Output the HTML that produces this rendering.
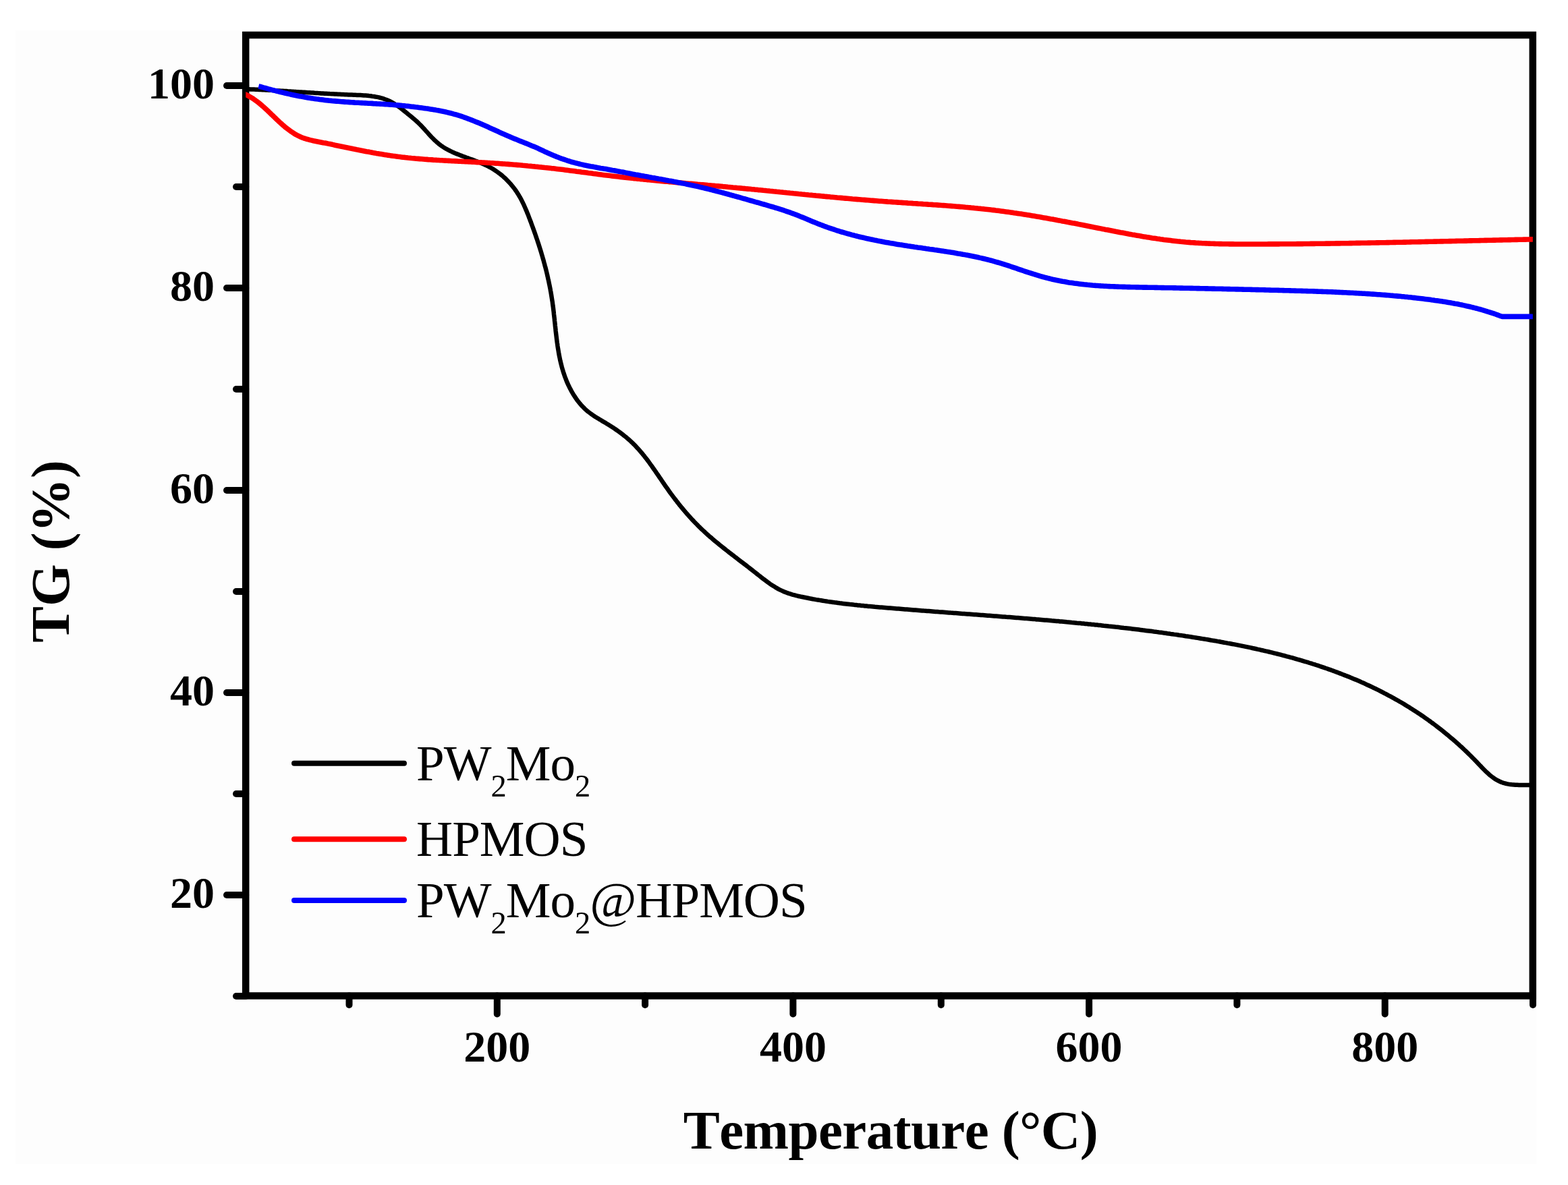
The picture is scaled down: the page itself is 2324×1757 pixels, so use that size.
<!DOCTYPE html>
<html><head><meta charset="utf-8"><title>TG curves</title>
<style>
html,body{margin:0;padding:0;background:#ffffff;}
body{width:2324px;height:1757px;overflow:hidden;}
svg{display:block;}
text{font-kerning:none;}
.tk{stroke:#000;stroke-width:10;stroke-linecap:round;}
.yl{font-family:"Liberation Serif","Times New Roman",serif;font-weight:bold;font-size:66px;text-anchor:end;fill:#000;}
.xl{font-family:"Liberation Serif","Times New Roman",serif;font-weight:bold;font-size:66px;text-anchor:middle;fill:#000;}
.tt{font-family:"Liberation Serif","Times New Roman",serif;font-weight:bold;font-size:81px;fill:#000;}
.lg{font-family:"Liberation Serif","Times New Roman",serif;font-size:75px;letter-spacing:-1px;fill:#000;}
.cv{fill:none;stroke-linejoin:round;stroke-linecap:butt;}
</style></head><body>
<svg width="2324" height="1757" viewBox="0 0 2324 1757">
<rect x="0" y="0" width="2324" height="1757" fill="#fff"/>
<rect x="23" y="45" width="2254" height="1681" fill="#fdfdfd"/>
<line x1="336.0" y1="127.0" x2="364.2" y2="127.0" class="tk"/>
<line x1="336.0" y1="427.0" x2="364.2" y2="427.0" class="tk"/>
<line x1="336.0" y1="727.0" x2="364.2" y2="727.0" class="tk"/>
<line x1="336.0" y1="1027.0" x2="364.2" y2="1027.0" class="tk"/>
<line x1="336.0" y1="1327.0" x2="364.2" y2="1327.0" class="tk"/>
<line x1="350.0" y1="277.0" x2="364.2" y2="277.0" class="tk"/>
<line x1="350.0" y1="577.0" x2="364.2" y2="577.0" class="tk"/>
<line x1="350.0" y1="877.0" x2="364.2" y2="877.0" class="tk"/>
<line x1="350.0" y1="1177.0" x2="364.2" y2="1177.0" class="tk"/>
<line x1="350.0" y1="1477.0" x2="364.2" y2="1477.0" class="tk"/>
<line x1="736.8" y1="1476.5" x2="736.8" y2="1503.5" class="tk"/>
<line x1="1175.4" y1="1476.5" x2="1175.4" y2="1503.5" class="tk"/>
<line x1="1614.1" y1="1476.5" x2="1614.1" y2="1503.5" class="tk"/>
<line x1="2052.7" y1="1476.5" x2="2052.7" y2="1503.5" class="tk"/>
<line x1="517.5" y1="1476.5" x2="517.5" y2="1490.0" class="tk"/>
<line x1="956.1" y1="1476.5" x2="956.1" y2="1490.0" class="tk"/>
<line x1="1394.8" y1="1476.5" x2="1394.8" y2="1490.0" class="tk"/>
<line x1="1833.4" y1="1476.5" x2="1833.4" y2="1490.0" class="tk"/>
<line x1="2272.0" y1="1476.5" x2="2272.0" y2="1490.0" class="tk"/>
<rect x="364.2" y="52.0" width="1907.6" height="1424.5" fill="none" stroke="#000" stroke-width="10.5" stroke-linejoin="miter"/>
<defs><clipPath id="pa"><rect x="364.2" y="52.0" width="1907.6" height="1424.5"/></clipPath></defs>
<g clip-path="url(#pa)">
<path class="cv" d="M364.0,132.0L366.5,132.2 369.0,132.3 371.5,132.4 374.1,132.5 376.6,132.6 379.1,132.7 381.6,132.8 384.1,132.9 386.6,133.0 389.2,133.2 391.7,133.3 394.2,133.4 396.7,133.5 399.2,133.7 401.7,133.8 404.2,133.9 406.6,134.1 409.1,134.2 411.6,134.4 414.1,134.5 416.6,134.7 419.1,134.8 421.6,135.0 424.1,135.1 426.5,135.3 429.0,135.4 431.5,135.6 434.0,135.7 436.5,135.9 438.9,136.1 441.4,136.2 443.9,136.4 446.4,136.5 448.9,136.7 451.3,136.8 453.8,137.0 456.3,137.2 458.8,137.3 461.3,137.5 463.8,137.6 466.2,137.8 468.7,137.9 471.2,138.1 473.7,138.2 476.2,138.4 478.7,138.5 481.2,138.7 483.7,138.8 486.2,138.9 488.7,139.1 491.2,139.2 493.7,139.3 496.2,139.5 498.7,139.6 501.2,139.7 503.7,139.8 506.3,140.0 508.8,140.1 511.3,140.2 513.8,140.3 516.4,140.4 518.9,140.5 521.4,140.6 524.0,140.7 526.5,140.8 529.1,140.9 531.6,141.0 534.2,141.1 536.7,141.2 539.2,141.4 541.8,141.6 544.3,141.8 546.8,142.1 549.3,142.3 551.7,142.7 554.2,143.0 556.6,143.5 559.1,143.9 561.5,144.4 563.8,145.0 566.2,145.7 568.5,146.4 570.8,147.2 573.1,148.0 575.4,149.0 577.6,150.0 579.8,151.1 581.9,152.3 584.0,153.5 586.1,154.9 588.2,156.3 590.3,157.7 592.3,159.2 594.3,160.7 596.3,162.3 598.3,163.9 600.2,165.4 602.2,167.0 604.1,168.6 606.1,170.2 608.0,171.7 609.9,173.3 611.8,174.9 613.7,176.5 615.6,178.2 617.4,179.8 619.3,181.5 621.1,183.3 622.9,185.0 624.6,186.8 626.4,188.7 628.1,190.5 629.8,192.4 631.5,194.3 633.2,196.2 634.9,198.1 636.6,200.0 638.4,201.9 640.1,203.7 641.9,205.5 643.6,207.3 645.5,209.0 647.3,210.7 649.2,212.3 651.1,213.9 653.1,215.4 655.1,216.8 657.1,218.1 659.2,219.4 661.3,220.7 663.5,221.9 665.7,223.0 667.9,224.1 670.1,225.2 672.4,226.2 674.6,227.2 676.9,228.1 679.3,229.1 681.6,230.0 683.9,230.9 686.3,231.8 688.6,232.6 691.0,233.5 693.4,234.3 695.8,235.2 698.1,236.0 700.5,236.9 702.9,237.8 705.2,238.7 707.6,239.6 709.9,240.5 712.3,241.4 714.6,242.4 716.9,243.4 719.1,244.5 721.4,245.5 723.6,246.6 725.8,247.8 728.0,249.0 730.1,250.3 732.3,251.6 734.3,253.0 736.4,254.4 738.4,255.8 740.4,257.3 742.4,258.9 744.3,260.4 746.2,262.1 748.0,263.7 749.8,265.4 751.6,267.2 753.3,269.0 755.0,270.8 756.7,272.7 758.3,274.6 759.9,276.5 761.4,278.4 762.9,280.4 764.4,282.5 765.8,284.5 767.1,286.6 768.5,288.7 769.7,290.9 771.0,293.0 772.2,295.2 773.3,297.4 774.4,299.7 775.5,301.9 776.6,304.2 777.6,306.5 778.6,308.8 779.6,311.1 780.6,313.4 781.5,315.7 782.5,318.1 783.4,320.4 784.3,322.8 785.2,325.1 786.1,327.5 787.0,329.8 787.8,332.2 788.7,334.6 789.6,336.9 790.4,339.3 791.3,341.6 792.1,344.0 793.0,346.4 793.8,348.7 794.6,351.1 795.4,353.5 796.2,355.8 797.0,358.2 797.8,360.6 798.6,363.0 799.3,365.4 800.1,367.7 800.8,370.1 801.6,372.5 802.3,374.9 803.0,377.3 803.7,379.7 804.4,382.1 805.1,384.5 805.8,386.9 806.4,389.3 807.1,391.7 807.7,394.1 808.4,396.5 809.0,398.9 809.6,401.3 810.2,403.7 810.8,406.2 811.3,408.6 811.9,411.0 812.4,413.5 813.0,415.9 813.5,418.3 814.0,420.8 814.5,423.2 815.0,425.7 815.5,428.1 815.9,430.6 816.4,433.0 816.8,435.5 817.2,437.9 817.6,440.4 818.0,442.9 818.4,445.4 818.8,447.8 819.1,450.3 819.4,452.8 819.8,455.3 820.1,457.8 820.4,460.3 820.7,462.8 820.9,465.3 821.2,467.8 821.5,470.3 821.8,472.8 822.0,475.3 822.3,477.8 822.6,480.3 822.8,482.8 823.1,485.3 823.4,487.8 823.6,490.3 823.9,492.8 824.2,495.3 824.5,497.8 824.8,500.3 825.1,502.8 825.4,505.3 825.7,507.7 826.1,510.2 826.4,512.7 826.8,515.2 827.2,517.6 827.6,520.1 828.0,522.6 828.4,525.0 828.9,527.5 829.4,529.9 829.9,532.3 830.4,534.8 831.0,537.2 831.6,539.6 832.2,542.0 832.8,544.4 833.5,546.8 834.2,549.2 834.9,551.5 835.7,553.9 836.5,556.2 837.3,558.6 838.2,560.9 839.1,563.2 840.0,565.6 841.0,567.9 842.0,570.1 843.1,572.4 844.2,574.7 845.4,576.9 846.6,579.2 847.8,581.4 849.1,583.6 850.4,585.8 851.8,587.9 853.3,590.1 854.7,592.2 856.2,594.2 857.8,596.2 859.4,598.2 861.0,600.1 862.7,602.0 864.5,603.8 866.2,605.6 868.1,607.3 869.9,608.9 871.8,610.5 873.8,612.0 875.8,613.5 877.8,614.9 879.8,616.3 881.9,617.7 884.0,619.0 886.1,620.3 888.2,621.6 890.3,622.8 892.5,624.1 894.6,625.4 896.8,626.6 898.9,627.9 901.1,629.2 903.2,630.6 905.3,631.9 907.4,633.3 909.5,634.6 911.6,636.0 913.7,637.5 915.7,638.9 917.8,640.4 919.8,641.9 921.8,643.4 923.8,644.9 925.7,646.5 927.7,648.0 929.6,649.7 931.5,651.3 933.3,652.9 935.2,654.6 937.0,656.3 938.8,658.1 940.5,659.8 942.2,661.6 943.9,663.4 945.6,665.2 947.3,667.1 948.9,669.0 950.5,670.8 952.1,672.7 953.7,674.7 955.2,676.6 956.7,678.6 958.3,680.5 959.8,682.5 961.3,684.5 962.7,686.5 964.2,688.6 965.7,690.6 967.1,692.6 968.5,694.7 970.0,696.7 971.4,698.8 972.8,700.9 974.2,702.9 975.7,705.0 977.1,707.1 978.5,709.2 979.9,711.2 981.3,713.3 982.7,715.4 984.2,717.5 985.6,719.6 987.0,721.6 988.5,723.7 989.9,725.7 991.4,727.8 992.8,729.8 994.3,731.9 995.8,733.9 997.3,735.9 998.8,737.9 1000.3,739.9 1001.9,741.9 1003.4,743.9 1005.0,745.9 1006.5,747.9 1008.1,749.8 1009.7,751.8 1011.3,753.7 1012.9,755.6 1014.5,757.5 1016.1,759.4 1017.8,761.3 1019.4,763.2 1021.1,765.1 1022.8,766.9 1024.5,768.8 1026.1,770.6 1027.9,772.4 1029.6,774.3 1031.3,776.0 1033.1,777.8 1034.8,779.6 1036.6,781.3 1038.4,783.1 1040.2,784.8 1042.0,786.5 1043.8,788.2 1045.6,789.9 1047.5,791.6 1049.3,793.2 1051.2,794.9 1053.1,796.5 1055.0,798.1 1056.9,799.8 1058.8,801.4 1060.7,803.0 1062.6,804.5 1064.5,806.1 1066.4,807.7 1068.4,809.3 1070.3,810.8 1072.3,812.4 1074.2,813.9 1076.2,815.5 1078.2,817.0 1080.1,818.6 1082.1,820.1 1084.1,821.6 1086.1,823.2 1088.1,824.7 1090.0,826.2 1092.0,827.7 1094.0,829.3 1096.0,830.8 1098.0,832.3 1100.0,833.8 1102.0,835.4 1104.0,836.9 1106.0,838.4 1108.0,840.0 1110.0,841.5 1112.0,843.1 1114.0,844.6 1116.0,846.2 1117.9,847.7 1119.9,849.3 1121.9,850.9 1123.9,852.5 1125.9,854.0 1127.8,855.6 1129.8,857.1 1131.8,858.7 1133.8,860.2 1135.8,861.7 1137.8,863.2 1139.9,864.7 1141.9,866.1 1144.0,867.5 1146.1,868.8 1148.2,870.1 1150.3,871.4 1152.4,872.6 1154.6,873.8 1156.8,874.9 1159.0,875.9 1161.3,876.9 1163.6,877.9 1165.9,878.7 1168.2,879.6 1170.6,880.3 1172.9,881.1 1175.3,881.8 1177.7,882.4 1180.2,883.1 1182.6,883.7 1185.0,884.2 1187.5,884.8 1190.0,885.3 1192.4,885.8 1194.9,886.3 1197.4,886.8 1199.8,887.3 1202.3,887.7 1204.8,888.2 1207.2,888.6 1209.7,889.1 1212.2,889.5 1214.7,889.9 1217.1,890.3 1219.6,890.7 1222.1,891.1 1224.6,891.5 1227.1,891.9 1229.5,892.2 1232.0,892.6 1234.5,892.9 1237.0,893.3 1239.5,893.6 1242.0,893.9 1244.4,894.3 1246.9,894.6 1249.4,894.9 1251.9,895.2 1254.4,895.5 1256.9,895.8 1259.4,896.1 1261.9,896.3 1264.4,896.6 1266.8,896.9 1269.3,897.1 1271.8,897.4 1274.3,897.6 1276.8,897.9 1279.3,898.1 1281.8,898.4 1284.3,898.6 1286.8,898.9 1289.3,899.1 1291.8,899.3 1294.3,899.5 1296.8,899.8 1299.3,900.0 1301.8,900.2 1304.3,900.4 1306.8,900.6 1309.2,900.8 1311.7,901.0 1314.2,901.2 1316.7,901.4 1319.2,901.6 1321.7,901.8 1324.2,902.0 1326.7,902.2 1329.2,902.4 1331.7,902.6 1334.2,902.8 1336.7,903.0 1339.2,903.2 1341.7,903.4 1344.2,903.6 1346.7,903.8 1349.2,904.0 1351.7,904.2 1354.2,904.4 1356.7,904.6 1359.2,904.8 1361.7,905.0 1364.2,905.2 1366.7,905.4 1369.2,905.6 1371.7,905.7 1374.2,905.9 1376.6,906.1 1379.1,906.3 1381.6,906.5 1384.1,906.7 1386.6,906.9 1389.1,907.1 1391.6,907.3 1394.1,907.4 1396.6,907.6 1399.1,907.8 1401.6,908.0 1404.1,908.2 1406.6,908.4 1409.1,908.6 1411.6,908.7 1414.1,908.9 1416.6,909.1 1419.1,909.3 1421.6,909.5 1424.1,909.7 1426.6,909.9 1429.0,910.0 1431.5,910.2 1434.0,910.4 1436.5,910.6 1439.0,910.8 1441.5,911.0 1444.0,911.2 1446.5,911.3 1449.0,911.5 1451.5,911.7 1454.0,911.9 1456.5,912.1 1459.0,912.3 1461.5,912.5 1464.0,912.7 1466.5,912.8 1469.0,913.0 1471.4,913.2 1473.9,913.4 1476.4,913.6 1478.9,913.8 1481.4,914.0 1483.9,914.2 1486.4,914.4 1488.9,914.6 1491.4,914.8 1493.9,914.9 1496.4,915.1 1498.9,915.3 1501.4,915.5 1503.9,915.7 1506.4,915.9 1508.8,916.1 1511.3,916.3 1513.8,916.5 1516.3,916.7 1518.8,916.9 1521.3,917.1 1523.8,917.3 1526.3,917.5 1528.8,917.7 1531.3,917.9 1533.8,918.1 1536.3,918.4 1538.7,918.6 1541.2,918.8 1543.7,919.0 1546.2,919.2 1548.7,919.4 1551.2,919.6 1553.7,919.8 1556.2,920.0 1558.7,920.3 1561.2,920.5 1563.7,920.7 1566.1,920.9 1568.6,921.1 1571.1,921.4 1573.6,921.6 1576.1,921.8 1578.6,922.0 1581.1,922.3 1583.6,922.5 1586.1,922.7 1588.5,923.0 1591.0,923.2 1593.5,923.4 1596.0,923.7 1598.5,923.9 1601.0,924.1 1603.5,924.4 1606.0,924.6 1608.5,924.9 1610.9,925.1 1613.4,925.4 1615.9,925.6 1618.4,925.9 1620.9,926.1 1623.4,926.4 1625.9,926.6 1628.4,926.9 1630.8,927.1 1633.3,927.4 1635.8,927.7 1638.3,927.9 1640.8,928.2 1643.3,928.5 1645.8,928.7 1648.3,929.0 1650.7,929.3 1653.2,929.6 1655.7,929.8 1658.2,930.1 1660.7,930.4 1663.2,930.7 1665.7,931.0 1668.1,931.2 1670.6,931.5 1673.1,931.8 1675.6,932.1 1678.1,932.4 1680.6,932.7 1683.1,933.0 1685.5,933.3 1688.0,933.6 1690.5,933.9 1693.0,934.2 1695.5,934.6 1698.0,934.9 1700.4,935.2 1702.9,935.5 1705.4,935.8 1707.9,936.1 1710.4,936.5 1712.9,936.8 1715.3,937.1 1717.8,937.5 1720.3,937.8 1722.8,938.1 1725.3,938.5 1727.7,938.8 1730.2,939.2 1732.7,939.5 1735.2,939.9 1737.7,940.2 1740.2,940.6 1742.6,940.9 1745.1,941.3 1747.6,941.7 1750.1,942.0 1752.6,942.4 1755.0,942.8 1757.5,943.2 1760.0,943.5 1762.5,943.9 1765.0,944.3 1767.4,944.7 1769.9,945.1 1772.4,945.5 1774.9,945.9 1777.3,946.3 1779.8,946.7 1782.3,947.1 1784.8,947.5 1787.3,947.9 1789.7,948.3 1792.2,948.7 1794.7,949.2 1797.2,949.6 1799.6,950.0 1802.1,950.4 1804.6,950.9 1807.1,951.3 1809.5,951.8 1812.0,952.2 1814.5,952.7 1817.0,953.1 1819.4,953.6 1821.9,954.0 1824.4,954.5 1826.8,955.0 1829.3,955.4 1831.8,955.9 1834.2,956.4 1836.7,956.9 1839.2,957.4 1841.6,957.9 1844.1,958.4 1846.5,958.9 1849.0,959.4 1851.5,959.9 1853.9,960.4 1856.4,961.0 1858.8,961.5 1861.3,962.0 1863.7,962.6 1866.2,963.1 1868.6,963.7 1871.1,964.2 1873.5,964.8 1875.9,965.4 1878.4,965.9 1880.8,966.5 1883.3,967.1 1885.7,967.7 1888.1,968.3 1890.6,968.9 1893.0,969.5 1895.4,970.1 1897.8,970.7 1900.3,971.4 1902.7,972.0 1905.1,972.6 1907.5,973.3 1909.9,973.9 1912.4,974.6 1914.8,975.2 1917.2,975.9 1919.6,976.6 1922.0,977.3 1924.4,978.0 1926.8,978.6 1929.2,979.3 1931.6,980.1 1934.0,980.8 1936.4,981.5 1938.8,982.2 1941.1,983.0 1943.5,983.7 1945.9,984.5 1948.3,985.2 1950.7,986.0 1953.0,986.7 1955.4,987.5 1957.8,988.3 1960.1,989.1 1962.5,989.9 1964.8,990.7 1967.2,991.5 1969.5,992.4 1971.9,993.2 1974.2,994.0 1976.6,994.9 1978.9,995.7 1981.3,996.6 1983.6,997.5 1985.9,998.4 1988.2,999.3 1990.6,1000.2 1992.9,1001.1 1995.2,1002.0 1997.5,1002.9 1999.8,1003.8 2002.1,1004.8 2004.4,1005.7 2006.7,1006.7 2009.0,1007.6 2011.3,1008.6 2013.6,1009.6 2015.9,1010.6 2018.1,1011.6 2020.4,1012.6 2022.7,1013.6 2024.9,1014.7 2027.2,1015.7 2029.5,1016.8 2031.7,1017.8 2034.0,1018.9 2036.2,1020.0 2038.5,1021.0 2040.7,1022.1 2042.9,1023.2 2045.2,1024.4 2047.4,1025.5 2049.6,1026.6 2051.8,1027.8 2054.0,1028.9 2056.2,1030.1 2058.4,1031.3 2060.6,1032.4 2062.8,1033.6 2065.0,1034.8 2067.2,1036.1 2069.4,1037.3 2071.6,1038.5 2073.7,1039.8 2075.9,1041.0 2078.1,1042.3 2080.2,1043.6 2082.4,1044.9 2084.5,1046.2 2086.6,1047.5 2088.8,1048.8 2090.9,1050.2 2093.0,1051.5 2095.2,1052.9 2097.3,1054.2 2099.4,1055.6 2101.5,1057.0 2103.6,1058.4 2105.7,1059.8 2107.8,1061.2 2109.9,1062.7 2111.9,1064.1 2114.0,1065.6 2116.1,1067.0 2118.1,1068.5 2120.2,1070.0 2122.2,1071.5 2124.3,1073.0 2126.3,1074.5 2128.3,1076.0 2130.3,1077.6 2132.3,1079.1 2134.3,1080.7 2136.3,1082.2 2138.3,1083.8 2140.2,1085.4 2142.2,1087.0 2144.1,1088.6 2146.1,1090.1 2148.0,1091.8 2149.9,1093.4 2151.8,1095.0 2153.7,1096.6 2155.6,1098.2 2157.5,1099.9 2159.3,1101.5 2161.2,1103.2 2163.0,1104.8 2164.8,1106.5 2166.7,1108.1 2168.5,1109.8 2170.2,1111.5 2172.0,1113.2 2173.8,1114.9 2175.6,1116.6 2177.3,1118.3 2179.1,1120.0 2180.8,1121.7 2182.5,1123.5 2184.3,1125.3 2186.0,1127.0 2187.7,1128.8 2189.5,1130.6 2191.2,1132.5 2192.9,1134.3 2194.7,1136.1 2196.4,1137.9 2198.2,1139.8 2199.9,1141.5 2201.7,1143.3 2203.5,1145.0 2205.4,1146.7 2207.2,1148.4 2209.1,1150.0 2211.1,1151.5 2213.1,1153.0 2215.1,1154.4 2217.1,1155.7 2219.2,1156.9 2221.4,1158.0 2223.6,1159.1 2225.9,1160.0 2228.3,1160.8 2230.7,1161.5 2233.1,1162.1 2235.7,1162.6 2238.2,1163.0 2240.8,1163.3 2243.4,1163.5 2246.0,1163.7 2248.7,1163.8 2251.3,1163.9 2254.0,1163.9 2256.6,1164.0 2259.2,1164.0 2261.7,1164.0 2264.3,1164.0 2266.7,1164.0 2269.2,1164.1 2271.5,1164.1 2273.8,1164.3 2276.0,1164.5" stroke="#000" stroke-width="6.5"/>
<path class="cv" d="M360.0,138.2L362.2,139.3 364.6,140.4 366.8,141.5 369.0,142.7 371.2,144.0 373.4,145.3 375.5,146.6 377.5,148.0 379.5,149.5 381.5,150.9 383.5,152.5 385.4,154.0 387.3,155.6 389.2,157.3 391.1,158.9 392.9,160.6 394.8,162.3 396.6,164.0 398.4,165.8 400.2,167.5 402.0,169.3 403.9,171.0 405.7,172.8 407.5,174.5 409.3,176.3 411.1,178.0 413.0,179.8 414.8,181.5 416.7,183.2 418.6,184.9 420.5,186.5 422.4,188.2 424.4,189.8 426.4,191.3 428.4,192.8 430.4,194.3 432.5,195.7 434.6,197.1 436.7,198.4 438.8,199.7 441.0,200.8 443.2,201.9 445.5,203.0 447.7,203.9 450.0,204.8 452.4,205.5 454.8,206.3 457.1,206.9 459.6,207.6 462.0,208.1 464.4,208.7 466.9,209.2 469.3,209.7 471.8,210.2 474.3,210.7 476.8,211.2 479.2,211.7 481.7,212.1 484.2,212.6 486.6,213.1 489.1,213.6 491.6,214.1 494.0,214.6 496.5,215.2 498.9,215.7 501.4,216.2 503.9,216.7 506.3,217.2 508.8,217.7 511.2,218.2 513.7,218.7 516.1,219.2 518.6,219.7 521.1,220.2 523.5,220.8 526.0,221.3 528.4,221.8 530.9,222.2 533.3,222.7 535.8,223.2 538.3,223.7 540.7,224.2 543.2,224.7 545.6,225.1 548.1,225.6 550.5,226.0 553.0,226.5 555.5,226.9 557.9,227.4 560.4,227.8 562.9,228.2 565.3,228.6 567.8,229.0 570.3,229.4 572.7,229.8 575.2,230.2 577.7,230.6 580.1,230.9 582.6,231.3 585.1,231.6 587.6,231.9 590.0,232.3 592.5,232.6 595.0,232.9 597.5,233.2 600.0,233.4 602.5,233.7 604.9,234.0 607.4,234.2 609.9,234.5 612.4,234.7 614.9,234.9 617.4,235.2 619.9,235.4 622.4,235.6 624.9,235.8 627.4,236.0 629.9,236.2 632.4,236.4 634.9,236.6 637.4,236.7 639.9,236.9 642.4,237.1 644.9,237.2 647.4,237.4 649.9,237.5 652.4,237.7 654.9,237.8 657.4,238.0 659.9,238.1 662.4,238.3 664.9,238.4 667.4,238.5 669.9,238.7 672.4,238.8 674.9,238.9 677.4,239.0 679.9,239.2 682.4,239.3 684.9,239.4 687.4,239.5 689.9,239.7 692.5,239.8 695.0,239.9 697.5,240.0 700.0,240.2 702.5,240.3 705.0,240.4 707.5,240.6 710.0,240.7 712.5,240.8 715.0,241.0 717.5,241.1 720.0,241.2 722.5,241.4 725.0,241.5 727.5,241.7 730.0,241.8 732.5,242.0 735.0,242.2 737.5,242.3 740.0,242.5 742.5,242.7 745.0,242.9 747.5,243.0 750.0,243.2 752.5,243.4 755.0,243.6 757.5,243.8 760.0,244.0 762.5,244.2 765.0,244.4 767.5,244.6 770.0,244.8 772.5,245.0 775.0,245.3 777.5,245.5 780.0,245.7 782.5,246.0 785.0,246.2 787.5,246.4 790.0,246.7 792.4,246.9 794.9,247.2 797.4,247.4 799.9,247.7 802.4,247.9 804.9,248.2 807.4,248.5 809.9,248.7 812.4,249.0 814.9,249.3 817.3,249.6 819.8,249.8 822.3,250.1 824.8,250.4 827.3,250.7 829.8,251.0 832.3,251.3 834.8,251.6 837.2,251.9 839.7,252.2 842.2,252.6 844.7,252.9 847.2,253.2 849.7,253.5 852.1,253.8 854.6,254.2 857.1,254.5 859.6,254.8 862.1,255.2 864.6,255.5 867.1,255.8 869.5,256.1 872.0,256.5 874.5,256.8 877.0,257.1 879.5,257.5 882.0,257.8 884.4,258.1 886.9,258.4 889.4,258.7 891.9,259.1 894.4,259.4 896.9,259.7 899.4,260.0 901.8,260.3 904.3,260.6 906.8,260.9 909.3,261.2 911.8,261.5 914.3,261.8 916.8,262.1 919.3,262.4 921.8,262.7 924.2,262.9 926.7,263.2 929.2,263.5 931.7,263.8 934.2,264.0 936.7,264.3 939.2,264.6 941.7,264.8 944.2,265.1 946.7,265.3 949.2,265.6 951.7,265.8 954.2,266.1 956.6,266.3 959.1,266.6 961.6,266.8 964.1,267.0 966.6,267.3 969.1,267.5 971.6,267.7 974.1,268.0 976.6,268.2 979.1,268.4 981.6,268.7 984.1,268.9 986.6,269.1 989.1,269.3 991.6,269.6 994.1,269.8 996.6,270.0 999.1,270.2 1001.6,270.4 1004.1,270.7 1006.6,270.9 1009.1,271.1 1011.6,271.3 1014.0,271.5 1016.5,271.8 1019.0,272.0 1021.5,272.2 1024.0,272.4 1026.5,272.6 1029.0,272.8 1031.5,273.0 1034.0,273.3 1036.5,273.5 1039.0,273.7 1041.5,273.9 1044.0,274.1 1046.5,274.3 1049.0,274.6 1051.5,274.8 1054.0,275.0 1056.5,275.2 1059.0,275.4 1061.5,275.7 1064.0,275.9 1066.5,276.1 1069.0,276.3 1071.5,276.6 1074.0,276.8 1076.5,277.0 1079.0,277.3 1081.4,277.5 1083.9,277.7 1086.4,278.0 1088.9,278.2 1091.4,278.4 1093.9,278.7 1096.4,278.9 1098.9,279.1 1101.4,279.4 1103.9,279.6 1106.4,279.9 1108.9,280.1 1111.4,280.3 1113.9,280.6 1116.4,280.8 1118.9,281.1 1121.3,281.3 1123.8,281.6 1126.3,281.8 1128.8,282.0 1131.3,282.3 1133.8,282.5 1136.3,282.8 1138.8,283.0 1141.3,283.3 1143.8,283.5 1146.3,283.8 1148.8,284.0 1151.3,284.3 1153.7,284.5 1156.2,284.8 1158.7,285.0 1161.2,285.3 1163.7,285.5 1166.2,285.8 1168.7,286.0 1171.2,286.3 1173.7,286.5 1176.2,286.8 1178.7,287.0 1181.2,287.2 1183.7,287.5 1186.2,287.7 1188.6,288.0 1191.1,288.2 1193.6,288.5 1196.1,288.7 1198.6,289.0 1201.1,289.2 1203.6,289.4 1206.1,289.7 1208.6,289.9 1211.1,290.2 1213.6,290.4 1216.1,290.6 1218.6,290.9 1221.1,291.1 1223.6,291.4 1226.0,291.6 1228.5,291.8 1231.0,292.1 1233.5,292.3 1236.0,292.5 1238.5,292.7 1241.0,293.0 1243.5,293.2 1246.0,293.4 1248.5,293.6 1251.0,293.9 1253.5,294.1 1256.0,294.3 1258.5,294.5 1261.0,294.7 1263.5,295.0 1266.0,295.2 1268.5,295.4 1271.0,295.6 1273.5,295.8 1276.0,296.0 1278.5,296.2 1281.0,296.4 1283.5,296.6 1286.0,296.8 1288.5,297.0 1291.0,297.2 1293.5,297.4 1296.0,297.6 1298.5,297.8 1301.0,298.0 1303.5,298.2 1306.0,298.3 1308.5,298.5 1311.0,298.7 1313.5,298.9 1316.0,299.1 1318.5,299.2 1321.0,299.4 1323.5,299.6 1326.0,299.8 1328.5,299.9 1331.0,300.1 1333.5,300.3 1336.0,300.4 1338.5,300.6 1341.0,300.8 1343.5,300.9 1346.0,301.1 1348.5,301.2 1351.0,301.4 1353.5,301.6 1356.0,301.7 1358.5,301.9 1361.0,302.1 1363.5,302.2 1366.0,302.4 1368.5,302.6 1371.0,302.7 1373.5,302.9 1376.0,303.1 1378.5,303.2 1381.0,303.4 1383.5,303.6 1386.0,303.7 1388.5,303.9 1391.0,304.1 1393.5,304.3 1396.0,304.5 1398.5,304.6 1401.0,304.8 1403.5,305.0 1406.0,305.2 1408.5,305.4 1411.0,305.6 1413.5,305.8 1416.0,306.0 1418.5,306.2 1421.0,306.4 1423.5,306.6 1426.0,306.8 1428.5,307.0 1431.0,307.3 1433.5,307.5 1436.0,307.7 1438.5,307.9 1441.0,308.2 1443.5,308.4 1446.0,308.7 1448.5,308.9 1451.0,309.2 1453.5,309.4 1455.9,309.7 1458.4,309.9 1460.9,310.2 1463.4,310.5 1465.9,310.8 1468.4,311.1 1470.9,311.4 1473.4,311.6 1475.8,312.0 1478.3,312.3 1480.8,312.6 1483.3,312.9 1485.8,313.2 1488.2,313.6 1490.7,313.9 1493.2,314.2 1495.7,314.6 1498.2,314.9 1500.6,315.3 1503.1,315.7 1505.6,316.0 1508.1,316.4 1510.5,316.8 1513.0,317.1 1515.5,317.5 1518.0,317.9 1520.4,318.3 1522.9,318.7 1525.4,319.1 1527.8,319.5 1530.3,319.9 1532.8,320.3 1535.2,320.8 1537.7,321.2 1540.2,321.6 1542.6,322.0 1545.1,322.5 1547.6,322.9 1550.0,323.3 1552.5,323.8 1555.0,324.2 1557.4,324.7 1559.9,325.1 1562.4,325.6 1564.8,326.0 1567.3,326.5 1569.8,326.9 1572.2,327.4 1574.7,327.9 1577.2,328.3 1579.6,328.8 1582.1,329.3 1584.5,329.7 1587.0,330.2 1589.5,330.7 1591.9,331.1 1594.4,331.6 1596.9,332.1 1599.3,332.6 1601.8,333.1 1604.2,333.5 1606.7,334.0 1609.2,334.5 1611.6,335.0 1614.1,335.5 1616.5,336.0 1619.0,336.5 1621.5,337.0 1623.9,337.4 1626.4,337.9 1628.9,338.4 1631.3,338.9 1633.8,339.4 1636.2,339.9 1638.7,340.4 1641.2,340.8 1643.6,341.3 1646.1,341.8 1648.5,342.3 1651.0,342.8 1653.5,343.3 1655.9,343.7 1658.4,344.2 1660.9,344.7 1663.3,345.1 1665.8,345.6 1668.3,346.1 1670.7,346.5 1673.2,347.0 1675.7,347.4 1678.1,347.9 1680.6,348.3 1683.1,348.8 1685.5,349.2 1688.0,349.6 1690.5,350.0 1692.9,350.5 1695.4,350.9 1697.9,351.3 1700.3,351.7 1702.8,352.1 1705.3,352.5 1707.8,352.9 1710.2,353.2 1712.7,353.6 1715.2,354.0 1717.7,354.3 1720.1,354.7 1722.6,355.0 1725.1,355.4 1727.6,355.7 1730.1,356.0 1732.5,356.3 1735.0,356.6 1737.5,356.9 1740.0,357.2 1742.5,357.5 1745.0,357.8 1747.5,358.0 1749.9,358.3 1752.4,358.5 1754.9,358.7 1757.4,359.0 1759.9,359.2 1762.4,359.4 1764.9,359.6 1767.4,359.7 1769.9,359.9 1772.4,360.1 1774.9,360.2 1777.4,360.4 1779.9,360.5 1782.4,360.7 1784.9,360.8 1787.4,360.9 1789.9,361.0 1792.4,361.1 1794.9,361.2 1797.4,361.3 1799.9,361.4 1802.4,361.5 1804.9,361.5 1807.4,361.6 1809.9,361.6 1812.4,361.7 1814.9,361.8 1817.4,361.8 1819.9,361.8 1822.4,361.9 1825.0,361.9 1827.5,361.9 1830.0,362.0 1832.5,362.0 1835.0,362.0 1837.5,362.0 1840.0,362.0 1842.5,362.0 1845.0,362.0 1847.5,362.0 1850.1,362.0 1852.6,362.0 1855.1,362.0 1857.6,362.0 1860.1,362.0 1862.6,362.0 1865.1,362.0 1867.6,362.0 1870.1,362.0 1872.6,362.0 1875.2,362.0 1877.7,362.0 1880.2,361.9 1882.7,361.9 1885.2,361.9 1887.7,361.9 1890.2,361.9 1892.7,361.9 1895.2,361.9 1897.7,361.8 1900.2,361.8 1902.7,361.8 1905.3,361.8 1907.8,361.8 1910.3,361.7 1912.8,361.7 1915.3,361.7 1917.8,361.7 1920.3,361.7 1922.8,361.6 1925.3,361.6 1927.8,361.6 1930.3,361.6 1932.8,361.5 1935.3,361.5 1937.8,361.5 1940.3,361.5 1942.9,361.4 1945.4,361.4 1947.9,361.4 1950.4,361.3 1952.9,361.3 1955.4,361.3 1957.9,361.2 1960.4,361.2 1962.9,361.2 1965.4,361.1 1967.9,361.1 1970.4,361.1 1972.9,361.0 1975.4,361.0 1977.9,361.0 1980.4,360.9 1982.9,360.9 1985.4,360.9 1987.9,360.8 1990.5,360.8 1993.0,360.7 1995.5,360.7 1998.0,360.7 2000.5,360.6 2003.0,360.6 2005.5,360.5 2008.0,360.5 2010.5,360.4 2013.0,360.4 2015.5,360.4 2018.0,360.3 2020.5,360.3 2023.0,360.2 2025.5,360.2 2028.0,360.1 2030.5,360.1 2033.0,360.0 2035.5,360.0 2038.0,360.0 2040.5,359.9 2043.0,359.9 2045.5,359.8 2048.0,359.8 2050.6,359.7 2053.1,359.7 2055.6,359.6 2058.1,359.6 2060.6,359.5 2063.1,359.5 2065.6,359.4 2068.1,359.4 2070.6,359.3 2073.1,359.3 2075.6,359.2 2078.1,359.2 2080.6,359.1 2083.1,359.1 2085.6,359.0 2088.1,359.0 2090.6,358.9 2093.1,358.8 2095.6,358.8 2098.1,358.7 2100.6,358.7 2103.1,358.6 2105.6,358.6 2108.1,358.5 2110.6,358.5 2113.1,358.4 2115.6,358.4 2118.2,358.3 2120.7,358.2 2123.2,358.2 2125.7,358.1 2128.2,358.1 2130.7,358.0 2133.2,358.0 2135.7,357.9 2138.2,357.9 2140.7,357.8 2143.2,357.7 2145.7,357.7 2148.2,357.6 2150.7,357.6 2153.2,357.5 2155.7,357.5 2158.2,357.4 2160.7,357.3 2163.2,357.3 2165.7,357.2 2168.2,357.2 2170.7,357.1 2173.2,357.1 2175.8,357.0 2178.3,356.9 2180.8,356.9 2183.3,356.8 2185.8,356.8 2188.3,356.7 2190.8,356.7 2193.3,356.6 2195.8,356.5 2198.3,356.5 2200.8,356.4 2203.3,356.4 2205.8,356.3 2208.3,356.3 2210.8,356.2 2213.3,356.1 2215.8,356.1 2218.4,356.0 2220.9,356.0 2223.4,355.9 2225.9,355.9 2228.4,355.8 2230.9,355.7 2233.4,355.7 2235.9,355.6 2238.4,355.6 2240.9,355.5 2243.4,355.5 2245.9,355.4 2248.4,355.4 2250.9,355.3 2253.5,355.2 2256.0,355.2 2258.5,355.1 2261.0,355.1 2263.5,355.0 2266.0,355.0 2268.5,354.9 2271.0,354.9 2273.5,354.8 2276.0,354.7" stroke="#ff0000" stroke-width="7.6"/>
<path class="cv" d="M383.3,127.9L385.7,128.5 388.1,129.2 390.5,129.9 393.0,130.5 395.4,131.2 397.8,131.9 400.2,132.5 402.6,133.1 405.0,133.8 407.5,134.4 409.9,135.0 412.3,135.6 414.8,136.2 417.2,136.8 419.6,137.4 422.1,138.0 424.5,138.5 427.0,139.1 429.4,139.6 431.9,140.2 434.3,140.7 436.8,141.2 439.2,141.7 441.7,142.2 444.1,142.7 446.6,143.1 449.1,143.6 451.5,144.0 454.0,144.5 456.5,144.9 458.9,145.3 461.4,145.7 463.9,146.1 466.4,146.4 468.8,146.8 471.3,147.1 473.8,147.5 476.3,147.8 478.8,148.1 481.2,148.4 483.7,148.7 486.2,148.9 488.7,149.2 491.2,149.4 493.7,149.7 496.2,149.9 498.7,150.1 501.2,150.3 503.6,150.5 506.1,150.7 508.6,150.9 511.1,151.1 513.6,151.3 516.1,151.4 518.6,151.6 521.1,151.8 523.6,151.9 526.1,152.1 528.6,152.2 531.1,152.3 533.6,152.5 536.1,152.6 538.6,152.8 541.1,152.9 543.6,153.0 546.1,153.2 548.6,153.3 551.1,153.4 553.6,153.6 556.1,153.7 558.6,153.9 561.1,154.0 563.6,154.1 566.1,154.3 568.6,154.4 571.1,154.6 573.6,154.8 576.1,154.9 578.6,155.1 581.1,155.3 583.6,155.5 586.1,155.7 588.6,155.9 591.1,156.1 593.6,156.3 596.1,156.6 598.6,156.8 601.1,157.1 603.6,157.3 606.1,157.6 608.6,157.9 611.1,158.2 613.5,158.4 616.0,158.8 618.5,159.1 621.0,159.4 623.5,159.7 626.0,160.1 628.4,160.4 630.9,160.8 633.4,161.1 635.9,161.5 638.3,161.9 640.8,162.3 643.3,162.7 645.8,163.1 648.2,163.6 650.7,164.0 653.1,164.5 655.6,165.0 658.1,165.5 660.5,166.0 662.9,166.6 665.4,167.2 667.8,167.8 670.2,168.4 672.6,169.1 675.0,169.7 677.4,170.4 679.8,171.2 682.2,171.9 684.5,172.7 686.9,173.5 689.2,174.4 691.6,175.2 693.9,176.1 696.3,177.0 698.6,177.9 700.9,178.8 703.2,179.7 705.6,180.7 707.9,181.6 710.2,182.6 712.5,183.6 714.8,184.6 717.1,185.6 719.4,186.6 721.7,187.6 724.0,188.6 726.3,189.7 728.6,190.7 730.9,191.7 733.2,192.8 735.4,193.8 737.7,194.8 740.0,195.9 742.3,196.9 744.6,197.9 746.9,198.9 749.2,200.0 751.5,201.0 753.8,202.0 756.1,202.9 758.4,203.9 760.7,204.9 763.0,205.9 765.3,206.8 767.6,207.7 769.9,208.7 772.2,209.6 774.6,210.5 776.9,211.5 779.2,212.4 781.5,213.3 783.8,214.3 786.1,215.2 788.4,216.2 790.7,217.1 793.0,218.1 795.3,219.1 797.6,220.1 799.9,221.2 802.1,222.2 804.4,223.3 806.7,224.4 809.0,225.4 811.2,226.5 813.5,227.5 815.8,228.5 818.1,229.5 820.4,230.5 822.7,231.4 825.1,232.4 827.4,233.3 829.7,234.2 832.1,235.1 834.4,235.9 836.8,236.7 839.2,237.5 841.6,238.3 843.9,239.0 846.3,239.8 848.7,240.5 851.2,241.1 853.6,241.8 856.0,242.4 858.4,243.0 860.9,243.6 863.3,244.1 865.7,244.7 868.2,245.2 870.6,245.7 873.1,246.2 875.6,246.7 878.0,247.1 880.5,247.6 883.0,248.0 885.4,248.5 887.9,248.9 890.4,249.4 892.8,249.8 895.3,250.2 897.8,250.6 900.3,251.1 902.7,251.5 905.2,251.9 907.7,252.4 910.1,252.8 912.6,253.3 915.0,253.8 917.5,254.2 920.0,254.7 922.4,255.1 924.9,255.6 927.3,256.1 929.8,256.6 932.2,257.0 934.7,257.5 937.1,258.0 939.6,258.4 942.1,258.9 944.5,259.3 947.0,259.8 949.4,260.3 951.9,260.7 954.4,261.1 956.8,261.6 959.3,262.0 961.8,262.5 964.2,262.9 966.7,263.4 969.2,263.8 971.6,264.3 974.1,264.7 976.6,265.2 979.0,265.6 981.5,266.1 984.0,266.5 986.4,267.0 988.9,267.4 991.4,267.9 993.8,268.3 996.3,268.8 998.7,269.3 1001.2,269.7 1003.7,270.2 1006.1,270.7 1008.6,271.2 1011.0,271.7 1013.5,272.1 1015.9,272.6 1018.4,273.2 1020.9,273.7 1023.3,274.2 1025.7,274.7 1028.2,275.2 1030.6,275.8 1033.1,276.3 1035.5,276.9 1038.0,277.5 1040.4,278.0 1042.8,278.6 1045.3,279.2 1047.7,279.8 1050.1,280.4 1052.6,281.0 1055.0,281.6 1057.4,282.2 1059.8,282.8 1062.3,283.5 1064.7,284.1 1067.1,284.7 1069.5,285.4 1071.9,286.0 1074.3,286.7 1076.8,287.3 1079.2,288.0 1081.6,288.7 1084.0,289.3 1086.4,290.0 1088.8,290.7 1091.2,291.3 1093.6,292.0 1096.1,292.7 1098.5,293.4 1100.9,294.1 1103.3,294.7 1105.7,295.4 1108.1,296.1 1110.5,296.8 1112.9,297.5 1115.3,298.2 1117.7,298.9 1120.1,299.6 1122.6,300.2 1125.0,300.9 1127.4,301.6 1129.8,302.3 1132.2,303.0 1134.6,303.7 1137.0,304.4 1139.4,305.1 1141.8,305.8 1144.2,306.5 1146.6,307.2 1149.0,308.0 1151.4,308.7 1153.8,309.4 1156.2,310.2 1158.6,310.9 1161.0,311.7 1163.3,312.5 1165.7,313.3 1168.1,314.1 1170.4,314.9 1172.8,315.8 1175.1,316.6 1177.5,317.5 1179.8,318.4 1182.2,319.3 1184.5,320.3 1186.8,321.2 1189.1,322.1 1191.4,323.1 1193.8,324.1 1196.1,325.0 1198.4,326.0 1200.7,326.9 1203.0,327.9 1205.3,328.9 1207.6,329.8 1210.0,330.8 1212.3,331.7 1214.6,332.6 1217.0,333.5 1219.3,334.4 1221.6,335.3 1224.0,336.1 1226.3,337.0 1228.7,337.8 1231.1,338.6 1233.4,339.4 1235.8,340.2 1238.2,341.0 1240.6,341.8 1243.0,342.5 1245.4,343.3 1247.7,344.0 1250.1,344.7 1252.5,345.4 1255.0,346.1 1257.4,346.8 1259.8,347.4 1262.2,348.1 1264.6,348.7 1267.0,349.4 1269.5,350.0 1271.9,350.6 1274.3,351.2 1276.7,351.8 1279.2,352.3 1281.6,352.9 1284.1,353.5 1286.5,354.0 1289.0,354.5 1291.4,355.1 1293.9,355.6 1296.3,356.1 1298.8,356.6 1301.2,357.1 1303.7,357.6 1306.1,358.0 1308.6,358.5 1311.1,359.0 1313.5,359.4 1316.0,359.8 1318.5,360.3 1320.9,360.7 1323.4,361.1 1325.9,361.5 1328.3,362.0 1330.8,362.4 1333.3,362.8 1335.7,363.1 1338.2,363.5 1340.7,363.9 1343.2,364.3 1345.6,364.7 1348.1,365.0 1350.6,365.4 1353.1,365.8 1355.6,366.2 1358.0,366.5 1360.5,366.9 1363.0,367.2 1365.5,367.6 1368.0,368.0 1370.4,368.3 1372.9,368.7 1375.4,369.0 1377.9,369.4 1380.3,369.7 1382.8,370.1 1385.3,370.5 1387.8,370.8 1390.3,371.2 1392.7,371.6 1395.2,371.9 1397.7,372.3 1400.2,372.7 1402.6,373.1 1405.1,373.4 1407.6,373.8 1410.0,374.2 1412.5,374.6 1415.0,375.0 1417.4,375.4 1419.9,375.9 1422.4,376.3 1424.8,376.7 1427.3,377.2 1429.8,377.6 1432.2,378.1 1434.7,378.5 1437.1,379.0 1439.6,379.5 1442.0,380.0 1444.5,380.5 1446.9,381.0 1449.4,381.5 1451.8,382.1 1454.2,382.6 1456.7,383.2 1459.1,383.8 1461.5,384.4 1464.0,385.0 1466.4,385.6 1468.8,386.2 1471.2,386.9 1473.7,387.6 1476.1,388.3 1478.5,389.0 1480.9,389.7 1483.3,390.4 1485.7,391.1 1488.1,391.9 1490.5,392.7 1492.9,393.4 1495.3,394.2 1497.7,395.0 1500.1,395.8 1502.5,396.6 1504.9,397.4 1507.3,398.2 1509.6,399.1 1512.0,399.9 1514.4,400.7 1516.8,401.5 1519.2,402.3 1521.6,403.1 1524.0,403.9 1526.4,404.6 1528.8,405.4 1531.2,406.2 1533.6,406.9 1536.0,407.7 1538.4,408.4 1540.8,409.1 1543.2,409.8 1545.6,410.5 1548.0,411.1 1550.4,411.8 1552.8,412.4 1555.3,413.0 1557.7,413.6 1560.1,414.2 1562.6,414.7 1565.0,415.2 1567.4,415.7 1569.9,416.2 1572.3,416.7 1574.8,417.2 1577.2,417.6 1579.7,418.0 1582.1,418.5 1584.6,418.9 1587.0,419.2 1589.5,419.6 1592.0,420.0 1594.4,420.3 1596.9,420.6 1599.4,420.9 1601.9,421.2 1604.3,421.5 1606.8,421.8 1609.3,422.0 1611.8,422.3 1614.3,422.5 1616.7,422.7 1619.2,423.0 1621.7,423.2 1624.2,423.4 1626.7,423.5 1629.2,423.7 1631.7,423.9 1634.2,424.0 1636.7,424.2 1639.2,424.3 1641.7,424.5 1644.2,424.6 1646.7,424.7 1649.2,424.8 1651.7,424.9 1654.2,425.0 1656.7,425.1 1659.2,425.2 1661.7,425.3 1664.2,425.4 1666.7,425.4 1669.2,425.5 1671.7,425.6 1674.2,425.6 1676.8,425.7 1679.3,425.8 1681.8,425.8 1684.3,425.9 1686.8,425.9 1689.3,426.0 1691.8,426.0 1694.3,426.1 1696.8,426.1 1699.3,426.1 1701.9,426.2 1704.4,426.2 1706.9,426.3 1709.4,426.3 1711.9,426.4 1714.4,426.4 1716.9,426.5 1719.4,426.5 1721.9,426.6 1724.4,426.6 1726.9,426.7 1729.4,426.7 1731.9,426.7 1734.4,426.8 1737.0,426.8 1739.5,426.9 1742.0,426.9 1744.5,427.0 1747.0,427.0 1749.5,427.1 1752.0,427.1 1754.5,427.2 1757.0,427.2 1759.5,427.3 1762.0,427.3 1764.5,427.4 1767.0,427.4 1769.5,427.5 1772.0,427.5 1774.5,427.6 1777.0,427.6 1779.5,427.7 1782.0,427.8 1784.5,427.8 1787.0,427.9 1789.5,427.9 1792.0,428.0 1794.5,428.0 1797.0,428.1 1799.5,428.1 1802.0,428.2 1804.5,428.2 1807.0,428.3 1809.5,428.3 1812.0,428.4 1814.5,428.5 1817.0,428.5 1819.5,428.6 1822.0,428.6 1824.5,428.7 1827.0,428.7 1829.5,428.8 1832.0,428.9 1834.5,428.9 1837.0,429.0 1839.5,429.0 1842.0,429.1 1844.5,429.2 1847.0,429.2 1849.5,429.3 1852.1,429.3 1854.6,429.4 1857.1,429.5 1859.6,429.5 1862.1,429.6 1864.6,429.6 1867.1,429.7 1869.6,429.8 1872.1,429.8 1874.6,429.9 1877.1,430.0 1879.6,430.0 1882.1,430.1 1884.6,430.2 1887.1,430.2 1889.6,430.3 1892.1,430.3 1894.6,430.4 1897.1,430.5 1899.6,430.5 1902.1,430.6 1904.6,430.7 1907.1,430.7 1909.6,430.8 1912.1,430.9 1914.6,431.0 1917.1,431.0 1919.6,431.1 1922.1,431.2 1924.6,431.2 1927.1,431.3 1929.6,431.4 1932.1,431.5 1934.6,431.5 1937.1,431.6 1939.6,431.7 1942.1,431.8 1944.7,431.8 1947.2,431.9 1949.7,432.0 1952.2,432.1 1954.7,432.2 1957.2,432.3 1959.7,432.4 1962.2,432.5 1964.7,432.5 1967.2,432.6 1969.7,432.7 1972.2,432.8 1974.7,432.9 1977.2,433.0 1979.7,433.1 1982.2,433.3 1984.7,433.4 1987.2,433.5 1989.7,433.6 1992.2,433.7 1994.7,433.8 1997.2,434.0 1999.7,434.1 2002.2,434.2 2004.7,434.3 2007.2,434.5 2009.7,434.6 2012.2,434.7 2014.7,434.9 2017.2,435.0 2019.7,435.2 2022.2,435.3 2024.7,435.5 2027.2,435.6 2029.7,435.8 2032.2,436.0 2034.7,436.1 2037.2,436.3 2039.7,436.5 2042.2,436.7 2044.7,436.8 2047.2,437.0 2049.7,437.2 2052.2,437.4 2054.7,437.6 2057.2,437.8 2059.7,438.0 2062.2,438.2 2064.7,438.4 2067.2,438.7 2069.7,438.9 2072.2,439.1 2074.7,439.3 2077.2,439.6 2079.7,439.8 2082.2,440.1 2084.6,440.3 2087.1,440.6 2089.6,440.8 2092.1,441.1 2094.6,441.4 2097.1,441.6 2099.6,441.9 2102.1,442.2 2104.5,442.5 2107.0,442.8 2109.5,443.1 2112.0,443.4 2114.5,443.7 2117.0,444.0 2119.5,444.3 2121.9,444.7 2124.4,445.0 2126.9,445.4 2129.4,445.7 2131.9,446.1 2134.3,446.4 2136.8,446.8 2139.3,447.2 2141.8,447.6 2144.2,448.0 2146.7,448.4 2149.2,448.8 2151.6,449.3 2154.1,449.7 2156.5,450.2 2159.0,450.6 2161.5,451.1 2163.9,451.6 2166.4,452.1 2168.8,452.6 2171.2,453.1 2173.7,453.7 2176.1,454.2 2178.6,454.8 2181.0,455.4 2183.4,456.0 2185.9,456.6 2188.3,457.2 2190.7,457.9 2193.1,458.5 2195.5,459.2 2197.9,459.9 2200.3,460.6 2202.7,461.3 2205.1,462.1 2207.5,462.8 2209.9,463.6 2212.3,464.4 2214.7,465.2 2217.0,466.0 2219.4,466.9 2221.8,467.8 2224.1,468.7 2226.5,469.4 2276.0,469.4" stroke="#0000ff" stroke-width="7.6"/>
</g>
<text x="318" y="145.8" class="yl">100</text>
<text x="318" y="445.8" class="yl">80</text>
<text x="318" y="745.8" class="yl">60</text>
<text x="318" y="1045.8" class="yl">40</text>
<text x="318" y="1345.8" class="yl">20</text>
<text x="736.8" y="1573.5" class="xl">200</text>
<text x="1175.4" y="1573.5" class="xl">400</text>
<text x="1614.1" y="1573.5" class="xl">600</text>
<text x="2052.7" y="1573.5" class="xl">800</text>
<text class="tt" x="1320" y="1703" text-anchor="middle" letter-spacing="-0.6">Temperature (°C)</text>
<text class="tt" transform="translate(102.3,817.4) rotate(-90)" text-anchor="middle" style="font-size:80.5px">TG (%)</text>
<line x1="436" y1="1131.7" x2="599" y2="1131.7" stroke="#000" stroke-width="8" stroke-linecap="round"/>
<line x1="436" y1="1244.3" x2="599" y2="1244.3" stroke="#ff0000" stroke-width="8" stroke-linecap="round"/>
<line x1="436" y1="1335" x2="599" y2="1335" stroke="#0000ff" stroke-width="8" stroke-linecap="round"/>
<text class="lg" x="617" y="1156.5">PW<tspan font-size="46.5" dy="24.5">2</tspan><tspan dy="-24.5">Mo</tspan><tspan font-size="46.5" dy="24.5">2</tspan></text>
<text class="lg" x="617" y="1269">HPMOS</text>
<text class="lg" x="617" y="1359.7">PW<tspan font-size="46.5" dy="24.5">2</tspan><tspan dy="-24.5">Mo</tspan><tspan font-size="46.5" dy="24.5">2</tspan><tspan dy="-24.5">@HPMOS</tspan></text>
</svg>
</body></html>
